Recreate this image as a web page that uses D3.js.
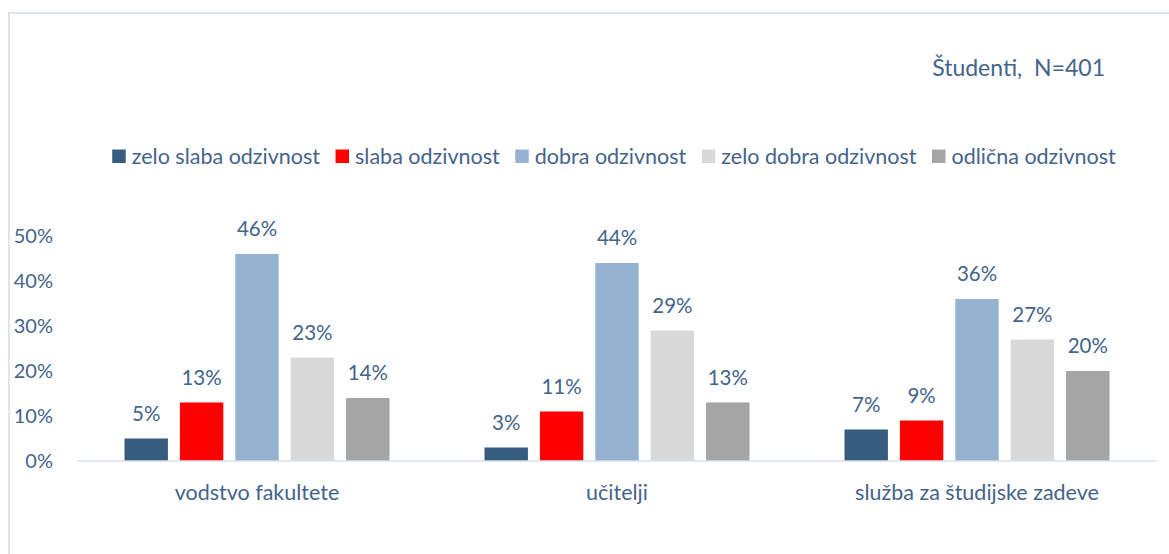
<!DOCTYPE html>
<html><head><meta charset="utf-8">
<script src="https://cdn.jsdelivr.net/npm/d3@7"></script>
<style>body{margin:0;background:#fff}svg{display:block}text{font-family:Lato,"Open Sans",sans-serif;font-weight:400}</style>
</head><body><svg id="c" width="1169" height="554"></svg>
<script>
const categories = ["vodstvo fakultete", "učitelji", "služba za študijske zadeve"];
const seriesNames = ["zelo slaba odzivnost", "slaba odzivnost", "dobra odzivnost", "zelo dobra odzivnost", "odlična odzivnost"];
const seriesColors = ["#365d80", "#ff0000", "#95b3d0", "#d9d9d9", "#a5a5a5"];
const values = [
  [5, 13, 46, 23, 14],
  [3, 11, 44, 29, 13],
  [7, 9, 36, 27, 20]
];
const yTicks = [0, 10, 20, 30, 40, 50];
const titleText = "Študenti,  N=401";

const svg = d3.select("#c");
const txt = "#44648a";
svg.append("rect").attr("x", 9).attr("y", 13).attr("width", 1200).attr("height", 600)
  .attr("fill", "#fff").attr("stroke", "#dce6f0").attr("stroke-width", 2);

const x0 = d3.scaleBand().domain(categories).range([77, 1157]).padding(0);
const x1 = d3.scaleBand().domain(seriesNames).range([47.5, 312.5]).paddingInner(0.216).paddingOuter(0);
const y = d3.scaleLinear().domain([0, 50]).range([461, 236]);

// y axis labels
svg.append("g").selectAll("text").data(yTicks).join("text")
  .attr("x", 53).attr("y", d => y(d)).attr("dy", "0.35em").attr("text-anchor", "end")
  .attr("font-size", 20).attr("fill", txt).text(d => d + "%");

// bars
const g = svg.append("g").selectAll("g").data(categories).join("g")
  .attr("transform", d => `translate(${x0(d)},0)`);
g.selectAll("rect").data((c, i) => values[i].map((v, j) => ({ v, s: seriesNames[j], j })))
  .join("rect")
  .attr("x", d => x1(d.s)).attr("width", x1.bandwidth())
  .attr("y", d => y(d.v)).attr("height", d => y(0) - y(d.v))
  .attr("fill", d => seriesColors[d.j]);
g.selectAll("text").data((c, i) => values[i].map((v, j) => ({ v, s: seriesNames[j], j })))
  .join("text")
  .attr("x", d => x1(d.s) + x1.bandwidth() / 2).attr("y", d => y(d.v) - 18)
  .attr("text-anchor", "middle").attr("font-size", 20.5).attr("fill", txt)
  .text(d => d.v + "%");

// baseline
svg.append("line").attr("x1", 77).attr("x2", 1157).attr("y1", 461).attr("y2", 461)
  .attr("stroke", "#d9e2ec").attr("stroke-width", 1.5);

// category labels
svg.append("g").selectAll("text").data(categories).join("text")
  .attr("x", d => x0(d) + x0.bandwidth() / 2).attr("y", 500)
  .attr("text-anchor", "middle").attr("font-size", 21.5).attr("fill", txt).text(d => d);

// title
svg.append("text").attr("x", 1105).attr("y", 76).attr("text-anchor", "end")
  .attr("font-size", 23).attr("fill", txt).style("white-space", "pre").text(titleText);

// legend
const lg = svg.append("g");
const items = lg.selectAll("g").data(seriesNames).join("g");
items.append("rect").attr("width", 13.5).attr("height", 13.5).attr("y", 149.5)
  .attr("fill", (d, i) => seriesColors[i]);
items.append("text").attr("x", 19.5).attr("y", 156).attr("dy", "0.35em")
  .attr("font-size", 21.5).attr("fill", txt).text(d => d);
let pos = 0;
const offs = [];
const gap = 15.5;
items.each(function () {
  offs.push(pos);
  const w = d3.select(this).select("text").node().getComputedTextLength();
  pos += 19.5 + w + gap;
});
const total = pos - gap;
const start = 614 - total / 2;
items.attr("transform", (d, i) => `translate(${start + offs[i]},0)`);
</script></body></html>
